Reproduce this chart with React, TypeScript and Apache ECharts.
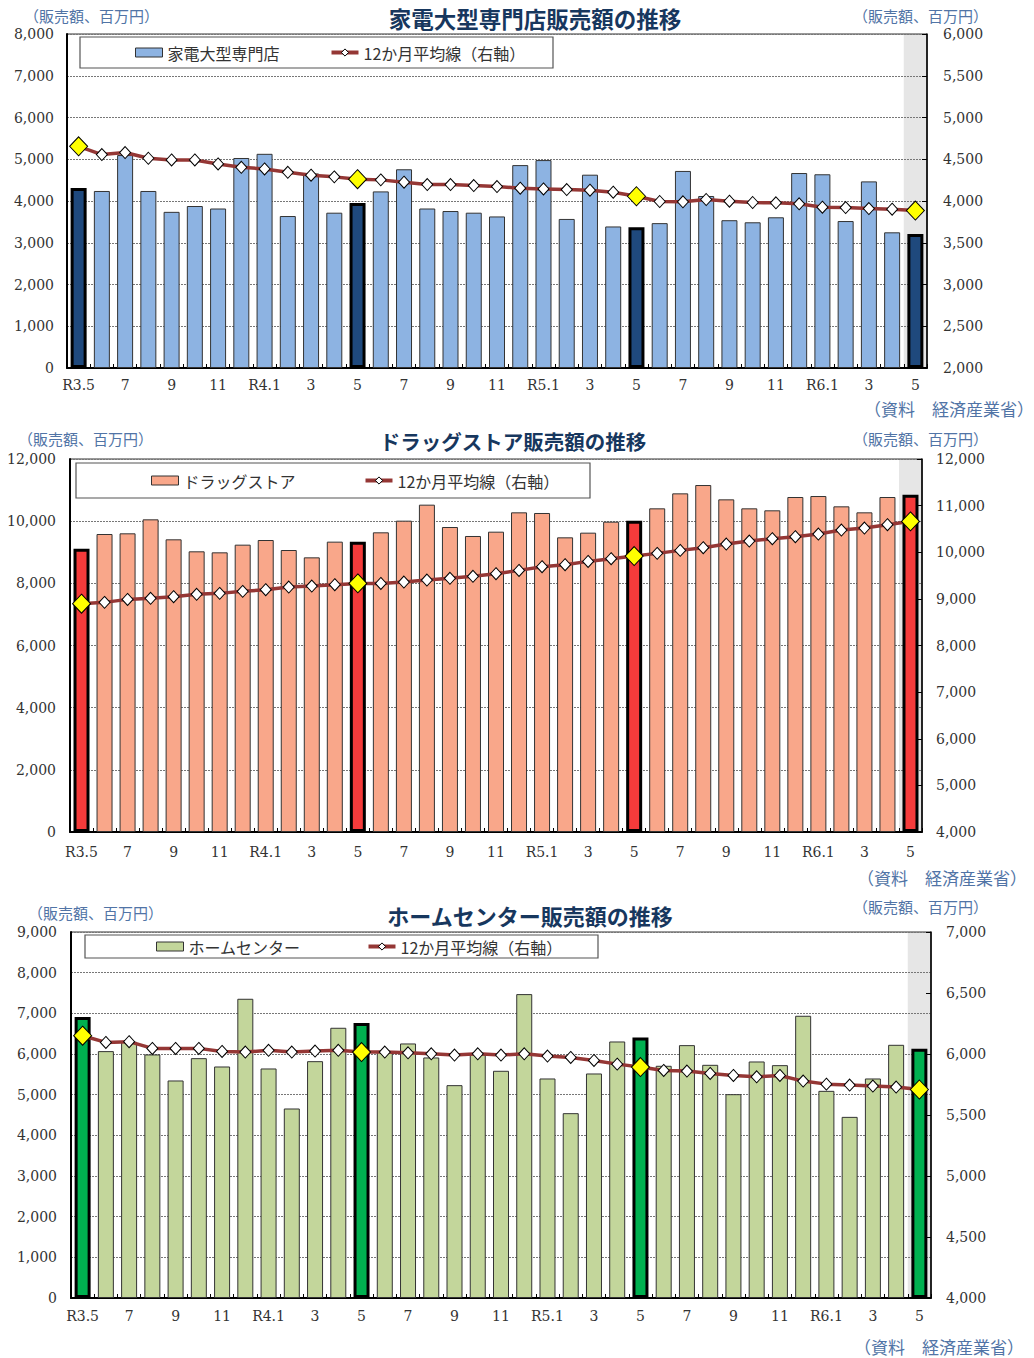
import React, { useEffect, useRef } from 'react';
import * as echarts from 'echarts';

// Months: R3.5 (May 2021) .. R6.5 (May 2024)
const months = [
  'R3.5', '6', '7', '8', '9', '10', '11', '12',
  'R4.1', '2', '3', '4', '5', '6', '7', '8', '9', '10', '11', '12',
  'R5.1', '2', '3', '4', '5', '6', '7', '8', '9', '10', '11', '12',
  'R6.1', '2', '3', '4', '5',
];
const highlightIdx = [0, 12, 24, 36];

// 家電大型専門店
const kadenSales = [4310, 4240, 5100, 4240, 3740, 3880, 3820, 5030, 5130, 3640, 4660, 3720, 3950, 4230, 4760, 3820, 3760, 3720, 3630, 4860, 4980, 3570, 4630, 3390, 3370, 3470, 4720, 4120, 3540, 3490, 3610, 4670, 4640, 3520, 4470, 3250, 3210];
const kadenAvg = [4655, 4556, 4580, 4512, 4492, 4492, 4444, 4404, 4384, 4344, 4309, 4289, 4261, 4253, 4225, 4197, 4197, 4185, 4173, 4153, 4145, 4137, 4129, 4105, 4057, 3994, 3990, 4018, 3998, 3982, 3978, 3966, 3926, 3922, 3910, 3902, 3886];

// ドラッグストア
const drugSales = [9115, 9587, 9609, 10059, 9416, 9030, 8997, 9244, 9394, 9072, 8836, 9341, 9341, 9641, 10016, 10531, 9812, 9523, 9662, 10284, 10263, 9480, 9630, 9984, 10016, 10413, 10895, 11163, 10702, 10413, 10349, 10777, 10809, 10477, 10284, 10777, 10852];
const drugAvg = [8896, 8925, 8989, 9011, 9046, 9097, 9118, 9161, 9197, 9254, 9275, 9304, 9332, 9332, 9361, 9404, 9440, 9483, 9540, 9611, 9690, 9733, 9804, 9861, 9918, 9976, 10040, 10097, 10176, 10240, 10290, 10333, 10390, 10476, 10519, 10590, 10662];

// ホームセンター
const homeSales = [6907, 6071, 6300, 5989, 5349, 5898, 5693, 7358, 5644, 4660, 5824, 6645, 6760, 6055, 6259, 5915, 5234, 5990, 5587, 7473, 5398, 4545, 5521, 6308, 6407, 5710, 6218, 5734, 5012, 5816, 5726, 6940, 5094, 4454, 5398, 6226, 6128];
const homeAvg = [6150, 6095, 6101, 6046, 6046, 6046, 6021, 6016, 6030, 6016, 6024, 6030, 6016, 6016, 6010, 6002, 5991, 6002, 5991, 6002, 5983, 5972, 5947, 5917, 5893, 5865, 5860, 5841, 5824, 5813, 5824, 5778, 5753, 5745, 5737, 5729, 5709];

const AVG_NAME = '12か月平均線（右軸）';
const UNIT = '（販売額、百万円）';
const SOURCE = '（資料　経済産業省）';

const FONT_NUM = '"DejaVu Serif", "Liberation Serif", serif';
const FONT_JP = '"Noto Sans CJK JP", "Noto Sans", sans-serif';
const TEXT_BLUE = '#5174A6';
const TITLE_BLUE = '#17375E';
const LINE_RED = '#953735';

const panels = [
  {
    title: '家電大型専門店販売額の推移', name: '家電大型専門店', sales: kadenSales, avg: kadenAvg,
    lmin: 0, lmax: 8000, lint: 1000, rmin: 2000, rmax: 6000, rint: 500,
    light: '#8DB3E2', dark: '#1F497D', titleSize: 22.5,
    grid: { left: 67, top: 34, width: 860, height: 334 },
    titlePos: [535, 18], unitL: [24, 15], unitR: [988, 15], source: [1034, 408],
    box: [80, 37, 473, 31], legendLeft: 135, legendGap: 50, xMargin: 10, yL: 13, yR: 16,
  },
  {
    title: 'ドラッグストア販売額の推移', name: 'ドラッグストア', sales: drugSales, avg: drugAvg,
    lmin: 0, lmax: 12000, lint: 2000, rmin: 4000, rmax: 12000, rint: 1000,
    light: '#F9A78A', dark: '#F53B3B', titleSize: 20.5,
    grid: { left: 70, top: 459, width: 852, height: 373 },
    titlePos: [513, 441], unitL: [18, 438], unitR: [988, 438], source: [1027, 877],
    box: [76, 463, 514, 35], legendLeft: 151, legendGap: 68, xMargin: 13, yL: 14, yR: 14,
  },
  {
    title: 'ホームセンター販売額の推移', name: 'ホームセンター', sales: homeSales, avg: homeAvg,
    lmin: 0, lmax: 9000, lint: 1000, rmin: 4000, rmax: 7000, rint: 500,
    light: '#C3D69B', dark: '#00B050', titleSize: 22,
    grid: { left: 71, top: 932, width: 860, height: 366 },
    titlePos: [530, 915], unitL: [28, 912], unitR: [988, 906], source: [1024, 1346],
    box: [85, 935, 513, 23], legendLeft: 156, legendGap: 66, xMargin: 11, yL: 14, yR: 15,
  },
];

const fmt = (v: number) => v.toLocaleString('en-US');

function buildOption() {
  const grid: any[] = [];
  const xAxis: any[] = [];
  const yAxis: any[] = [];
  const series: any[] = [];
  const legend: any[] = [];
  const graphic: any[] = [];

  panels.forEach((p, i) => {
    grid.push({ ...p.grid, show: true, borderColor: '#333', borderWidth: 1, backgroundColor: 'transparent' });
    const xMain = xAxis.length;
    xAxis.push({
      type: 'category', gridIndex: i, data: months, boundaryGap: true,
      axisLine: { show: true, lineStyle: { color: '#000', width: 2 } },
      axisTick: { show: true, inside: true, length: 4, interval: 0, lineStyle: { color: '#000' } },
      axisLabel: { interval: 1, margin: p.xMargin, fontFamily: FONT_NUM, fontSize: 14, color: '#333' },
      splitLine: { show: false },
    });
    const xBg = xAxis.length;
    xAxis.push({ type: 'category', gridIndex: i, data: months, show: false, boundaryGap: true });
    const yLeft = yAxis.length;
    yAxis.push({
      type: 'value', gridIndex: i, position: 'left', min: p.lmin, max: p.lmax, interval: p.lint,
      axisLine: { show: true, lineStyle: { color: '#000', width: 2 } },
      axisTick: { show: false },
      axisLabel: { margin: p.yL, fontFamily: FONT_NUM, fontSize: 14, color: '#333', formatter: fmt },
      splitLine: { show: true, lineStyle: { color: '#777', width: 1, type: [2, 1] } },
    });
    const yRight = yAxis.length;
    yAxis.push({
      type: 'value', gridIndex: i, position: 'right', min: p.rmin, max: p.rmax, interval: p.rint,
      axisLine: { show: true, lineStyle: { color: '#000', width: 1.5 } },
      axisTick: { show: true, inside: true, length: 5, lineStyle: { color: '#000' } },
      axisLabel: { margin: p.yR, fontFamily: FONT_NUM, fontSize: 14, color: '#333', formatter: fmt },
      splitLine: { show: false },
    });

    // grey band on latest month
    series.push({
      type: 'bar', name: 'bg' + i, xAxisIndex: xBg, yAxisIndex: yLeft, silent: true, z: -1,
      barWidth: '100%',
      data: months.map((_, k) => (k === months.length - 1 ? p.lmax : '-')),
      itemStyle: { color: '#E6E6E6' },
    });

    series.push({
      type: 'bar', name: p.name, xAxisIndex: xMain, yAxisIndex: yLeft, barWidth: 16, z: 2,
      itemStyle: { color: p.light, borderColor: '#333', borderWidth: 1 },
      data: p.sales.map((v, k) =>
        highlightIdx.includes(k)
          ? { value: v, itemStyle: { color: p.dark, borderColor: '#000', borderWidth: 3 } }
          : v),
    });

    series.push({
      type: 'line', name: AVG_NAME, xAxisIndex: xMain, yAxisIndex: yRight, z: 4,
      symbol: 'diamond', symbolSize: [11, 12], showAllSymbol: true,
      lineStyle: { color: LINE_RED, width: 3.5 },
      itemStyle: { color: '#FFFFFF', borderColor: '#000', borderWidth: 1 },
      data: p.avg.map((v, k) =>
        highlightIdx.includes(k)
          ? { value: v, symbolSize: [18, 19], itemStyle: { color: '#FFFF00', borderColor: '#000', borderWidth: 1 } }
          : v),
    });

    const cy = p.box[1] + p.box[3] / 2;
    legend.push({
      left: p.legendLeft, top: cy - 9, padding: 0, itemGap: p.legendGap, itemWidth: 27, itemHeight: 9,
      selectedMode: false, orient: 'horizontal',
      textStyle: { fontFamily: FONT_JP, fontSize: 16, color: '#333', lineHeight: 18 },
      data: [
        { name: p.name, icon: 'rect', itemStyle: { color: p.light, borderColor: '#333', borderWidth: 1 } },
        {
          name: AVG_NAME,
          itemStyle: { color: '#FFFFFF', borderColor: '#000', borderWidth: 1 },
          lineStyle: { color: LINE_RED, width: 4 },
        },
      ],
    });

    graphic.push({
      type: 'rect', z: 1, silent: true,
      shape: { x: p.box[0], y: p.box[1], width: p.box[2], height: p.box[3] },
      style: { fill: '#fff', stroke: '#555', lineWidth: 1.2 },
    });
    graphic.push({
      type: 'text', x: p.titlePos[0], y: p.titlePos[1], z: 5,
      style: { text: p.title, fill: TITLE_BLUE, font: `bold ${p.titleSize}px ${FONT_JP}`, textAlign: 'center', textVerticalAlign: 'middle' },
    });
    graphic.push({
      type: 'text', x: p.unitL[0], y: p.unitL[1], z: 5,
      style: { text: UNIT, fill: TEXT_BLUE, font: `15px ${FONT_JP}`, textAlign: 'left', textVerticalAlign: 'middle' },
    });
    graphic.push({
      type: 'text', x: p.unitR[0], y: p.unitR[1], z: 5,
      style: { text: UNIT, fill: TEXT_BLUE, font: `15px ${FONT_JP}`, textAlign: 'right', textVerticalAlign: 'middle' },
    });
    graphic.push({
      type: 'text', x: p.source[0], y: p.source[1], z: 5,
      style: { text: SOURCE, fill: TEXT_BLUE, font: `17px ${FONT_JP}`, textAlign: 'right', textVerticalAlign: 'middle' },
    });
  });

  return {
    animation: false,
    backgroundColor: '#fff',
    grid, xAxis, yAxis, series, legend, graphic,
  };
}

export default function App() {
  const ref = useRef<HTMLDivElement>(null);
  useEffect(() => {
    if (!ref.current) return;
    const chart = echarts.init(ref.current, undefined, { renderer: 'svg' });
    chart.setOption(buildOption() as any);
    return () => chart.dispose();
  }, []);
  return (
    <div
      ref={ref}
      style={{ position: 'absolute', left: 0, top: 0, width: 1034, height: 1358, background: '#fff' }}
    />
  );
}
